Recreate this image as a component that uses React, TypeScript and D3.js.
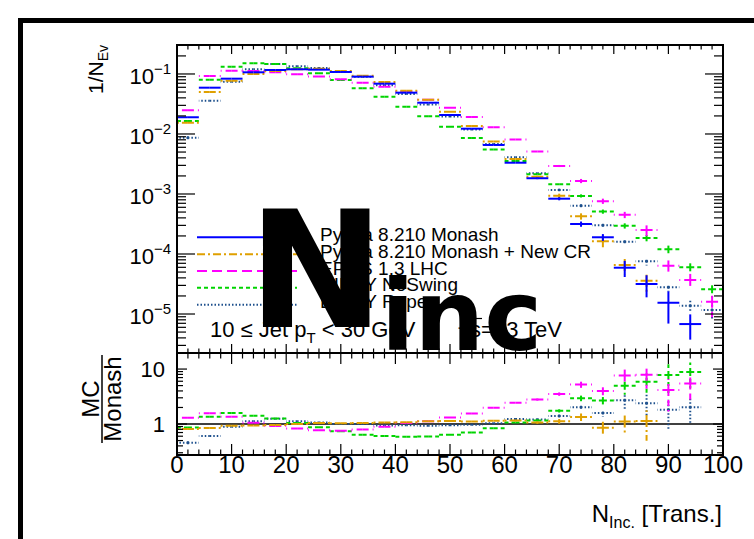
import React from 'react';
import * as d3 from 'd3';

// Bin lower edges (bin width 4) for the transverse-region multiplicity
const binLow = [0, 4, 8, 12, 16, 20, 24, 28, 32, 36, 40, 44, 48, 52, 56, 60, 64, 68, 72, 76, 80, 84, 88, 92, 96];
const BIN_W = 4;

// 1/N_Ev distributions per generator
const monash = [1.9e-2, 5.91e-2, 8.35e-2, 0.1067, 0.1166, 0.1197, 0.118, 0.108, 0.0902, 0.0689, 0.0488, 0.0332, 0.0207, 0.01226, 6.56e-3, 3.32e-3, 1.83e-3, 8.35e-4, 3.16e-4, 1.9e-4, 5.91e-5, 3.16e-5, 1.54e-5, 6.8e-6, 0];
const newCR = [1.54e-2, 5.01e-2, 7.73e-2, 0.1, 0.112, 0.1197, 0.1225, 0.112, 0.0937, 0.0736, 0.0527, 0.0373, 0.0235, 0.0136, 7.5e-3, 3.83e-3, 1.94e-3, 9.37e-4, 4.25e-4, 1.63e-4, 6.56e-5, 3.59e-5, 0, 0, 0];
const epos = [0.0248, 0.0927, 0.1135, 0.112, 0.107, 0.099, 0.091, 0.0815, 0.0716, 0.0614, 0.0509, 0.0373, 0.0273, 0.0191, 0.013, 8.1e-3, 5.1e-3, 2.93e-3, 1.65e-3, 7.6e-4, 4.5e-4, 2.5e-4, 6.4e-5, 3.7e-5, 1.6e-5];
const noSwing = [0.0165, 0.0804, 0.1324, 0.1507, 0.1468, 0.1245, 0.1027, 0.0794, 0.0578, 0.0418, 0.0285, 0.0197, 0.01324, 8.58e-3, 5.52e-3, 3.55e-3, 2.13e-3, 1.45e-3, 9.3e-4, 5.1e-4, 2.95e-4, 1.85e-4, 1.2e-4, 6.0e-5, 2.58e-5];
const rope = [8.67e-3, 0.0359, 0.0743, 0.1197, 0.146, 0.134, 0.126, 0.108, 0.09, 0.0648, 0.0464, 0.0309, 0.0196, 0.0119, 6.8e-3, 4.09e-3, 2.21e-3, 1.17e-3, 6.38e-4, 3.01e-4, 1.6e-4, 7.55e-5, 2.79e-5, 1.37e-5, 1.17e-5];

// Relative statistical uncertainties per bin
const monashErr = [0.01, 0.01, 0.01, 0.01, 0.01, 0.01, 0.01, 0.01, 0.01, 0.01, 0.01, 0.01, 0.01, 0.01, 0.015, 0.025, 0.035, 0.06, 0.1, 0.13, 0.3, 0.4, 0.55, 0.45, 0];
const newCRErr = [0.01, 0.01, 0.01, 0.01, 0.01, 0.01, 0.01, 0.01, 0.01, 0.01, 0.01, 0.01, 0.01, 0.015, 0.02, 0.03, 0.04, 0.08, 0.12, 0.25, 0.3, 0.4, 0, 0, 0];
const eposErr = [0.01, 0.01, 0.01, 0.01, 0.01, 0.01, 0.01, 0.01, 0.01, 0.01, 0.01, 0.01, 0.01, 0.01, 0.015, 0.02, 0.03, 0.04, 0.08, 0.1, 0.12, 0.2, 0.22, 0.3, 0.45];
const noSwingErr = [0.01, 0.01, 0.01, 0.01, 0.01, 0.01, 0.01, 0.01, 0.01, 0.01, 0.01, 0.01, 0.01, 0.01, 0.015, 0.02, 0.025, 0.03, 0.06, 0.08, 0.1, 0.12, 0.15, 0.2, 0.28];
const ropeErr = [0.12, 0.02, 0.01, 0.01, 0.01, 0.01, 0.01, 0.01, 0.01, 0.01, 0.01, 0.01, 0.01, 0.015, 0.02, 0.025, 0.03, 0.05, 0.06, 0.08, 0.1, 0.15, 0.15, 0.22, 0.3];

const legendLabels = ['Pythia 8.210 Monash', 'Pythia 8.210 Monash + New CR', 'EPOS 1.3 LHC', 'DIPSY NoSwing', 'DIPSY Rope'];
const xTickLabels = [0, 10, 20, 30, 40, 50, 60, 70, 80, 90, 100];
const yTopExponents = [-1, -2, -3, -4, -5];
const yRatioLabels = [1, 10];

const FONT = "'Liberation Sans', Arial, Helvetica, sans-serif";

type Style = { color: string; dash?: string; binDash?: string; width: number };
type Series = { label: string; values: number[]; err: number[]; style: Style };

const series: Series[] = [
  { label: legendLabels[0], values: monash, err: monashErr, style: { color: '#0000ff', width: 2 } },
  { label: legendLabels[1], values: newCR, err: newCRErr, style: { color: '#dfa000', dash: '8 3 2 3', binDash: '6 3 2 3', width: 2 } },
  { label: legendLabels[2], values: epos, err: eposErr, style: { color: '#ff00ff', dash: '10 5', binDash: '6 4', width: 2 } },
  { label: legendLabels[3], values: noSwing, err: noSwingErr, style: { color: '#00d400', dash: '4 3', binDash: '4 3', width: 2 } },
  { label: legendLabels[4], values: rope, err: ropeErr, style: { color: '#1c4f8c', dash: '1.5 2', binDash: '1.5 2', width: 2 } },
];

// Frame geometry
const X0 = 177, X1 = 723;
const TOP_Y0 = 45, TOP_Y1 = 353, RAT_Y1 = 455;

const x = d3.scaleLinear().domain([0, 100]).range([X0, X1]);
const yTop = d3.scaleLog().domain([2.24e-6, 0.304]).range([TOP_Y1, TOP_Y0]);
const yRat = d3.scaleLog().domain([0.273, 19.6]).range([RAT_Y1, TOP_Y1]);

function isDecade(v: number) {
  const l = Math.log10(v);
  return Math.abs(l - Math.round(l)) < 1e-6;
}

// One histogram drawn as horizontal bin bars with vertical error bars, from the bin centre outwards
function HistMarks({ values, err, yScale, yBottom, style }: {
  values: number[]; err: number[]; yScale: d3.ScaleLogarithmic<number, number>; yBottom: number; style: Style;
}) {
  const segs: string[] = [];
  values.forEach((v, i) => {
    const xl = x(binLow[i]);
    const xr = x(binLow[i] + BIN_W);
    const xc = (xl + xr) / 2;
    if (!(v > 0)) {
      segs.push(`M${xc},${yBottom}L${xl},${yBottom}`, `M${xc},${yBottom}L${xr},${yBottom}`);
      return;
    }
    const y = yScale(v);
    segs.push(`M${xc},${y}L${xl},${y}`, `M${xc},${y}L${xr},${y}`);
    const e = err[i] || 0;
    const yu = yScale(v * (1 + e));
    const yd = e < 0.999 ? yScale(v * (1 - e)) : yBottom + 10;
    if (y - yu > 0.8) segs.push(`M${xc},${y}L${xc},${yu}`);
    if (yd - y > 0.8) segs.push(`M${xc},${y}L${xc},${yd}`);
  });
  return (
    <g>
      {segs.map((d, j) => (
        <path key={j} d={d} fill="none" stroke={style.color} strokeWidth={style.width}
          strokeDasharray={style.binDash} />
      ))}
    </g>
  );
}

function XTicks({ yBase, dir, major, minor }: { yBase: number; dir: number; major: number; minor: number }) {
  const ticks = d3.range(0, 101, 2);
  return (
    <g stroke="#000" strokeWidth={1.2}>
      {ticks.map((t) => {
        const len = t % 10 === 0 ? major : minor;
        return <line key={t} x1={x(t)} x2={x(t)} y1={yBase} y2={yBase + dir * len} />;
      })}
    </g>
  );
}

function YTicks({ scale, major, minor }: { scale: d3.ScaleLogarithmic<number, number>; major: number; minor: number }) {
  const ticks = scale.ticks();
  return (
    <g stroke="#000" strokeWidth={1.2}>
      {ticks.map((t, i) => {
        const len = isDecade(t) ? major : minor;
        const yy = scale(t);
        return (
          <g key={i}>
            <line x1={X0} x2={X0 + len} y1={yy} y2={yy} />
            <line x1={X1} x2={X1 - len} y1={yy} y2={yy} />
          </g>
        );
      })}
    </g>
  );
}

export default function App() {
  const ratioSeries = series.slice(1).map((s) => ({
    ...s,
    values: s.values.map((v, i) => (monash[i] > 0 ? v / monash[i] : 0)),
    err: s.err.map((e, i) => Math.sqrt(e * e + monashErr[i] * monashErr[i])),
  }));

  const legendY0 = 237.3;
  const legendDy = 16.85;
  const sqrtX = 458;

  return (
    <svg width={754} height={539} style={{ position: 'absolute', left: 0, top: 0, background: '#fff' }}
      fontFamily={FONT}>
      <defs>
        <clipPath id="clipTop"><rect x={X0} y={TOP_Y0} width={X1 - X0} height={TOP_Y1 - TOP_Y0} /></clipPath>
        <clipPath id="clipRat"><rect x={X0} y={TOP_Y1} width={X1 - X0} height={RAT_Y1 - TOP_Y1} /></clipPath>
      </defs>
      <rect x={0} y={0} width={754} height={539} fill="#fff" />
      {/* canvas border */}
      <rect x={18} y={18} width={5} height={521} fill="#000" />
      <rect x={18} y={18} width={736} height={5} fill="#000" />

      {/* upper pad: distributions */}
      <g clipPath="url(#clipTop)">
        {series.slice().reverse().map((s, i) => (
          <HistMarks key={'t' + i} values={s.values} err={s.err} yScale={yTop} yBottom={TOP_Y1} style={s.style} />
        ))}
      </g>

      {/* lower pad: ratios to Monash */}
      <g clipPath="url(#clipRat)">
        <line x1={X0} x2={X1} y1={yRat(1)} y2={yRat(1)} stroke="#000" strokeWidth={1.5} />
        {ratioSeries.slice().reverse().map((s, i) => (
          <HistMarks key={'r' + i} values={s.values} err={s.err} yScale={yRat} yBottom={RAT_Y1} style={s.style} />
        ))}
      </g>

      {/* frames */}
      <rect x={X0} y={TOP_Y0} width={X1 - X0} height={TOP_Y1 - TOP_Y0} fill="none" stroke="#000" strokeWidth={2} />
      <rect x={X0} y={TOP_Y1} width={X1 - X0} height={RAT_Y1 - TOP_Y1} fill="none" stroke="#000" strokeWidth={2} />

      <XTicks yBase={TOP_Y1} dir={-1} major={9} minor={4.5} />
      <XTicks yBase={TOP_Y0} dir={1} major={9} minor={4.5} />
      <XTicks yBase={RAT_Y1} dir={-1} major={11} minor={5.5} />
      <XTicks yBase={TOP_Y1} dir={1} major={11} minor={5.5} />
      <YTicks scale={yTop} major={18} minor={9} />
      <YTicks scale={yRat} major={10} minor={6} />

      {/* y tick labels, upper pad */}
      {yTopExponents.map((e) => (
        <text key={e} x={171} y={yTop(Math.pow(10, e)) + 10} fontSize={22} textAnchor="end">
          10<tspan dy={-10} fontSize={15}>{'\u2212' + Math.abs(e)}</tspan>
        </text>
      ))}
      {/* y tick labels, ratio pad */}
      {yRatioLabels.map((v) => (
        <text key={v} x={165} y={yRat(v) + 8} fontSize={22} textAnchor="end">{v}</text>
      ))}
      {/* x tick labels */}
      {xTickLabels.map((v) => (
        <text key={v} x={x(v)} y={473} fontSize={24} textAnchor="middle">{v}</text>
      ))}

      {/* axis titles */}
      <text transform={`translate(103,${TOP_Y0}) rotate(-90)`} fontSize={21} textAnchor="end">
        1/N<tspan dy={5} fontSize={14}>Ev</tspan>
      </text>
      <g transform="translate(102,399) rotate(-90)">
        <text x={0} y={-3} fontSize={24} textAnchor="middle">MC</text>
        <line x1={-44} x2={44} y1={0} y2={0} stroke="#000" strokeWidth={1.5} />
        <text x={0} y={19} fontSize={24} textAnchor="middle">Monash</text>
      </g>
      <text x={722} y={521.7} fontSize={24} textAnchor="end">
        N<tspan dy={6} fontSize={16}>Inc.</tspan><tspan dy={-6}> [Trans.]</tspan>
      </text>

      {/* legend */}
      {series.map((s, i) => {
        const ly = legendY0 + legendDy * i;
        return (
          <g key={i}>
            <line x1={197} x2={297} y1={ly} y2={ly} stroke={s.style.color} strokeWidth={s.style.width}
              strokeDasharray={s.style.dash} />
            <text x={320} y={ly + 3.5} fontSize={19}>{s.label}</text>
          </g>
        );
      })}

      {/* selection text */}
      <text x={210} y={336.7} fontSize={22}>
        10 ≤ Jet p<tspan dy={6} fontSize={15}>T</tspan><tspan dy={-6}> &lt; 30 GeV</tspan>
      </text>
      <text x={sqrtX} y={336.7} fontSize={22}>√s=13 TeV</text>
      <line x1={sqrtX + 11} x2={sqrtX + 24} y1={318.5} y2={318.5} stroke="#000" strokeWidth={1.2} />

      {/* observable label */}
      <text x={248} y={327} fontSize={163} fontWeight="bold" fontFamily="'DejaVu Sans', sans-serif">N</text>
      <text x={381} y={350} fontSize={98} fontWeight="bold" fontFamily="'DejaVu Sans', sans-serif">inc</text>
    </svg>
  );
}
